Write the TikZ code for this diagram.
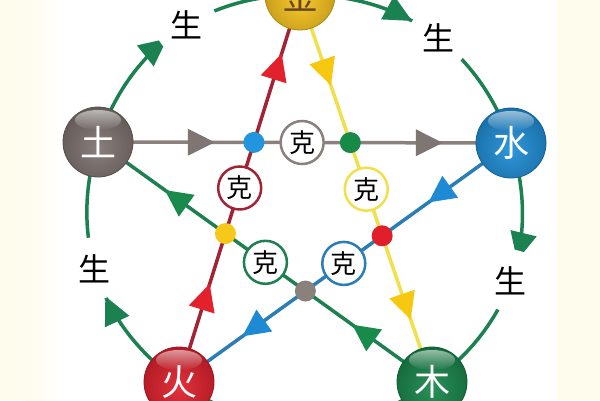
\documentclass[tikz,border=0pt]{standalone}
\usepackage{fontspec}
\newfontfamily\cjk{Noto Sans CJK SC}
\usetikzlibrary{arrows.meta,decorations.markings,fadings,calc,backgrounds}
\definecolor{cream}{HTML}{FEFCEC}
\definecolor{ringgreen}{HTML}{1B8150}
\definecolor{cgray}{HTML}{8A817D}
\definecolor{cgrayarr}{HTML}{7F7572}
\definecolor{cred}{HTML}{A32336}
\definecolor{credarr}{HTML}{E3212D}
\definecolor{cyel}{HTML}{F2DF4C}
\definecolor{cyelarr}{HTML}{F7C810}
\definecolor{cblue}{HTML}{2B7DB6}
\definecolor{cbluearr}{HTML}{1E8AD3}
\definecolor{cgreen}{HTML}{1E7F50}
\definecolor{cgreenarr}{HTML}{188A4C}
\definecolor{jincol}{HTML}{F7C31C}
\definecolor{shuicol}{HTML}{1E8DD6}
\definecolor{mucol}{HTML}{17864A}
\definecolor{huocol}{HTML}{E01F2B}
\definecolor{tucol}{HTML}{7E7370}
\definecolor{dblue}{HTML}{2196DD}
\definecolor{dgreen}{HTML}{178A48}
\definecolor{dred}{HTML}{E01F2A}
\definecolor{dyel}{HTML}{F6C81A}
\definecolor{dgray}{HTML}{8A807C}
\tikzfading[name=glossfade, top color=transparent!45, bottom color=transparent!100]
\tikzset{
  elem/.style={circle, minimum size=70pt, inner sep=0pt, draw=#1!70!black, line width=0.8pt, fill=#1,
    font=\cjk\fontsize{36}{36}\selectfont, text=white,
    path picture={
      \shade[inner color=#1!92!white, outer color=#1!75!black]
        ([yshift=-6pt]path picture bounding box.center) circle[radius=46pt];
      \fill[white, path fading=glossfade]
        ([yshift=-13pt]path picture bounding box.north) ellipse[x radius=23pt, y radius=10pt];
    }},
  ring/.style={draw=ringgreen, line width=3.5pt, postaction={decorate},
    decoration={markings, mark=at position #1 with {\arrow[ringgreen]{Triangle[length=28pt,width=26pt]}}}},
  ring/.default=0.42,
  shenglabel/.style={circle, fill=white, inner sep=7pt, font=\cjk\fontsize{32}{32}\selectfont, text=black},
  starline/.style n args={4}{draw=#1, line width=3.5pt, postaction={decorate},
    decoration={markings,
      mark=at position #3 with {\arrow[#2]{Triangle[length=27pt,width=26pt]}},
      mark=at position #4 with {\arrow[#2]{Triangle[length=27pt,width=26pt]}}}},
  dotmark/.style={circle, fill=#1, minimum size=21pt, inner sep=0pt},
  kecircle/.style={circle, draw=#1, line width=2.5pt, fill=white, minimum size=43pt, inner sep=0pt,
    font=\cjk\fontsize{26}{26}\selectfont, text=black},
}
\begin{document}
\begin{tikzpicture}[x=1pt,y=-1pt]
\useasboundingbox (0,0) rectangle (600,400);

% element positions
\coordinate (pJin) at (300,-5);
\coordinate (pShui) at (511,143);
\coordinate (pMu) at (432,382);
\coordinate (pHuo) at (179,382);
\coordinate (pTu) at (98,142);

% elements
\node[elem=jincol, text=brown!55!black] (jin) at (pJin) {金};
\node[elem=shuicol] (shui) at (pShui) {水};
\node[elem=mucol] (mu) at (pMu) {木};
\node[elem=huocol] (huo) at (pHuo) {火};
\node[elem=tucol] (tu) at (pTu) {土};

\begin{scope}[on background layer]
  % background
  \fill[cream] (0,0) rectangle (600,400);
  \fill[white] (62,0) rectangle (557,400);
  \shade[left color=cream, right color=white] (25,0) rectangle (62,400);
  % generating ring
  \draw[ring=0.47] (tu.center) to[bend left=36] node[pos=0.56, shenglabel] (s1) {生} (jin.center);
  \draw[ring=0.42] (jin.center) to[bend left=36] node[pos=0.535, shenglabel] (s2) {生} (shui.center);
  \draw[ring=0.44] (shui.center) to[bend left=36] node[pos=0.52, shenglabel] (s3) {生} (mu.center);
  \draw[ring=0.42] (mu.center) to[bend left=36] (huo.center);
  \draw[ring=0.42] (huo.center) to[bend left=36] node[pos=0.53, shenglabel] (s5) {生} (tu.center);
  % overcoming star
  \draw[starline={cgray}{cgrayarr}{0.283}{0.835}] (tu.center) -- (shui.center);
  \draw[starline={cblue}{cbluearr}{0.249}{0.809}] (shui.center) -- (huo.center);
  \draw[starline={cred}{credarr}{0.254}{0.849}] (huo.center) -- (jin.center);
  \draw[starline={cyel}{cyelarr}{0.234}{0.839}] (jin.center) -- (mu.center);
  \draw[starline={cgreen}{cgreenarr}{0.239}{0.80}] (mu.center) -- (tu.center);
\end{scope}

% intersection dots
\node[dotmark=dblue] (dA) at (intersection of pTu--pShui and pHuo--pJin) {};
\node[dotmark=dgreen] (dB) at (intersection of pTu--pShui and pJin--pMu) {};
\node[dotmark=dred] (dC) at (intersection of pShui--pHuo and pJin--pMu) {};
\node[dotmark=dgray] (dD) at (intersection of pShui--pHuo and pMu--pTu) {};
\node[dotmark=dyel] (dE) at (intersection of pHuo--pJin and pMu--pTu) {};

% ke circles
\node[kecircle=cgray] (k1) at ($(dA)!0.5!(dB)$) {克};
\node[kecircle=cyel] (k2) at ($(dB)!0.5!(dC)$) {克};
\node[kecircle=cblue] (k3) at ($(dC)!0.5!(dD)$) {克};
\node[kecircle=cgreen] (k4) at ($(dD)!0.5!(dE)$) {克};
\node[kecircle=cred] (k5) at ($(dE)!0.5!(dA)$) {克};
\end{tikzpicture}
\end{document}
